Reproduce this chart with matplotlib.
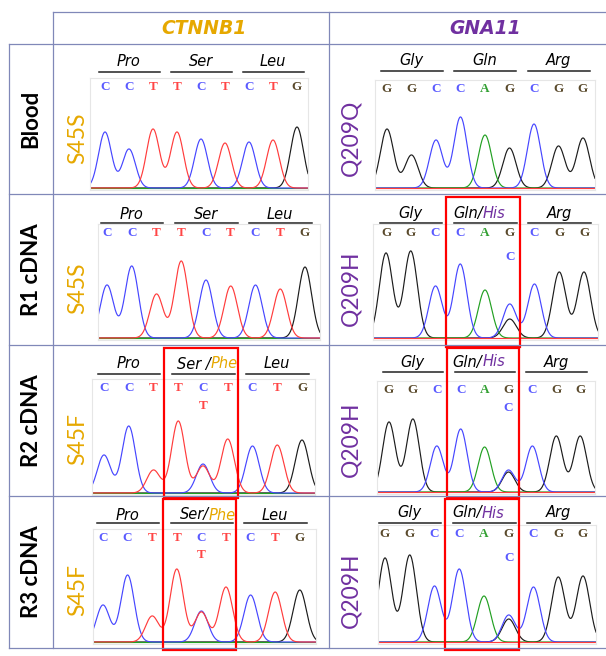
# Sanger chromatogram panel: CTNNB1 S45 / GNA11 Q209 in blood and cDNA
import matplotlib.pyplot as plt
from matplotlib.lines import Line2D
from matplotlib.patches import Rectangle
from matplotlib.transforms import blended_transform_factory
import numpy as np

W, H = 606, 656

# ---------------- data ----------------
samples = ["Blood", "R1 cDNA", "R2 cDNA", "R3 cDNA"]
genes = ["CTNNB1", "GNA11"]
gene_colors = ["#e6a800", "#7030a0"]

ctnnb1_bases = "CCTTCTCTG"
gna11_bases = "GGCCAGCGG"
ctnnb1_codons = ["Pro", "Ser", "Leu"]
gna11_codons = ["Gly", "Gln", "Arg"]
# middle codon label per sample (mutant samples also name the new amino acid)
ctnnb1_mid_labels = ["Ser", "Ser", "Ser /", "Ser/"]
gna11_mid_labels = ["Gln", "Gln/", "Gln/", "Gln/"]
ctnnb1_alt_aa = ["", "", "Phe", "Phe"]
gna11_alt_aa = ["", "His", "His", "His"]
ctnnb1_calls = ["S45S", "S45S", "S45F", "S45F"]
gna11_calls = ["Q209Q", "Q209H", "Q209H", "Q209H"]

# peak height of the called base at each position (px above baseline)
ctnnb1_blood = [56, 39, 59, 56, 49, 45, 46, 48, 61]
ctnnb1_r1 = [53, 72, 44, 77, 58, 52, 53, 49, 71]
ctnnb1_r2 = [38, 67, 23, 72, 29, 54, 47, 48, 53]
ctnnb1_r3 = [37, 67, 26, 73, 31, 55, 47, 50, 52]
gna11_blood = [59, 33, 48, 71, 53, 40, 64, 42, 50]
gna11_r1 = [85, 87, 52, 74, 48, 19, 54, 66, 66]
gna11_r2 = [70, 73, 46, 63, 45, 20, 46, 56, 56]
gna11_r3 = [84, 87, 56, 73, 46, 23, 55, 65, 66]

# second (mutant) peak at the mutated position
ctnnb1_mut_pos = 4
ctnnb1_alt_base = "T"
ctnnb1_alt_height = [0, 0, 27, 30]
gna11_mut_pos = 5
gna11_alt_base = "C"
gna11_alt_height = [0, 34, 22, 27]

# ---------------- layout (pixels) ----------------
row_tops = [44, 194, 345, 496, 648]
# left, right, baseline, first base x, base spacing, letter y, codon y, underline y, alt letter y
ctnnb1_geo = [
    (90, 308, 188, 105, 24.0, 87, 62, 72, 0),
    (98, 320, 338, 107, 24.75, 233, 214, 223, 0),
    (92, 315, 493, 104, 24.75, 388, 364, 374, 406),
    (93, 316, 642, 103, 24.6, 538, 515, 523, 555),
]
gna11_geo = [
    (375, 595, 188, 387, 24.5, 89, 61, 71, 0),
    (373, 598, 338, 386, 24.75, 233, 213, 223, 257),
    (377, 595, 492, 389, 23.9, 390, 362, 372, 408),
    (378, 596, 642, 385, 24.75, 534, 513, 523, 558),
]

trace_colors = {"A": "#22a022", "C": "#4646ff", "G": "#1c1c1c", "T": "#ff3c3c"}
letter_colors = {"A": "#33a033", "C": "#5a5aff", "G": "#5a4a2c", "T": "#ff4646"}
grid_c = "#8088b8"


def fx(x):
    return x / W


def fy(y):
    return 1 - y / H


fig = plt.figure(figsize=(W / 100, H / 100), dpi=100)


def hline(y, x0, x1):
    fig.add_artist(Line2D([fx(x0), fx(x1)], [fy(y), fy(y)], transform=fig.transFigure,
                          color=grid_c, lw=0.9))


def vline(x, y0, y1):
    fig.add_artist(Line2D([fx(x), fx(x)], [fy(y0), fy(y1)], transform=fig.transFigure,
                          color=grid_c, lw=0.9))


# table grid
hline(12, 53, W)
for y in row_tops:
    hline(y, 9, W)
vline(9, 44, 648)
vline(53, 12, 648)
vline(329, 12, 648)

# headers
fig.text(fx(204), fy(29), genes[0], color=gene_colors[0], fontsize=13.5,
         fontweight="bold", style="italic", ha="center", va="center")
fig.text(fx(485), fy(29), genes[1], color=gene_colors[1], fontsize=13.5,
         fontweight="bold", style="italic", ha="center", va="center")

for r, name in enumerate(samples):
    yc = (row_tops[r] + row_tops[r + 1]) / 2
    fig.text(fx(31), fy(yc), name, rotation=90, fontsize=16, fontweight="bold",
             family="Lato", ha="center", va="center")


def panel(geo, bases, heights, codons, mid_label, alt_aa, aa_color, mut_pos, alt_base,
          alt_h, call, call_x, row, split):
    left, right, base_y, b0, sp, let_y, aa_y, line_y, alt_y = geo
    top = let_y - 9
    ax = fig.add_axes([fx(left), fy(base_y + 2), (right - left) / W, (base_y + 2 - top) / H])
    lo, hi = (left - b0) / sp, (right - b0) / sp
    ax.set_xlim(lo, hi)
    ax.set_ylim(-2, base_y - top)
    ax.set_xticks([])
    ax.set_yticks([])
    for s in ax.spines.values():
        s.set_color("#e6e6e6")
        s.set_linewidth(0.8)

    x = np.linspace(lo, hi, 800)
    sigma = 0.27
    for ch in "GACT":
        y = np.zeros_like(x)
        for i, b in enumerate(bases):
            if b == ch:
                y += heights[i] * np.exp(-(x - i) ** 2 / (2 * sigma ** 2))
        if ch == alt_base and alt_h > 0:
            y += alt_h * np.exp(-(x - mut_pos) ** 2 / (2 * sigma ** 2))
        ax.plot(x, y, color=trace_colors[ch], lw=0.85)

    for i, b in enumerate(bases):
        ax.text(i, base_y - let_y, b, color=letter_colors[b], ha="center", va="center",
                family="Liberation Serif", fontweight="bold", fontsize=9.5)
    if alt_h > 0:
        ax.text(mut_pos, base_y - alt_y, alt_base, color=letter_colors[alt_base],
                ha="center", va="center", family="Liberation Serif",
                fontweight="bold", fontsize=9.5)

    for k, name in enumerate(codons):
        ax.plot([3 * k - 0.25, 3 * k + 2.28], [base_y - line_y] * 2, color="#222222",
                lw=1.1, clip_on=False)
        if k == 1 and alt_aa:
            ax.text(split, base_y - aa_y, mid_label, style="italic", fontsize=10.5,
                    ha="right", va="center", clip_on=False)
            ax.text(split, base_y - aa_y, alt_aa, style="italic", fontsize=10.5,
                    color=aa_color, ha="left", va="center", clip_on=False)
        else:
            ax.text(3 * k + 1, base_y - aa_y, name, style="italic", fontsize=10.5,
                    ha="center", va="center", clip_on=False)

    if alt_h > 0:
        trans = blended_transform_factory(ax.transData, fig.transFigure)
        y_top = row_tops[row] + 3
        y_bot = row_tops[row + 1] + 2
        box = Rectangle((2.42, fy(y_bot)), 3.0, fy(y_top) - fy(y_bot), transform=trans,
                        fill=False, ec="#ff0000", lw=1.6, clip_on=False, zorder=5)
        ax.add_patch(box)

    fig.text(fx(call_x), fy(row_tops[row] + 94), call, rotation=90, fontsize=16.5,
             family="Lato", color=aa_color, ha="center", va="center")


ctnnb1_heights = [ctnnb1_blood, ctnnb1_r1, ctnnb1_r2, ctnnb1_r3]
gna11_heights = [gna11_blood, gna11_r1, gna11_r2, gna11_r3]

for r in range(4):
    panel(ctnnb1_geo[r], ctnnb1_bases, ctnnb1_heights[r], ctnnb1_codons,
          ctnnb1_mid_labels[r], ctnnb1_alt_aa[r], gene_colors[0], ctnnb1_mut_pos,
          ctnnb1_alt_base, ctnnb1_alt_height[r], ctnnb1_calls[r], 78, r, 4.3)
    panel(gna11_geo[r], gna11_bases, gna11_heights[r], gna11_codons,
          gna11_mid_labels[r], gna11_alt_aa[r], gene_colors[1], gna11_mut_pos,
          gna11_alt_base, gna11_alt_height[r], gna11_calls[r], 351, r, 3.9)

fig.savefig("out.png", dpi=100)
